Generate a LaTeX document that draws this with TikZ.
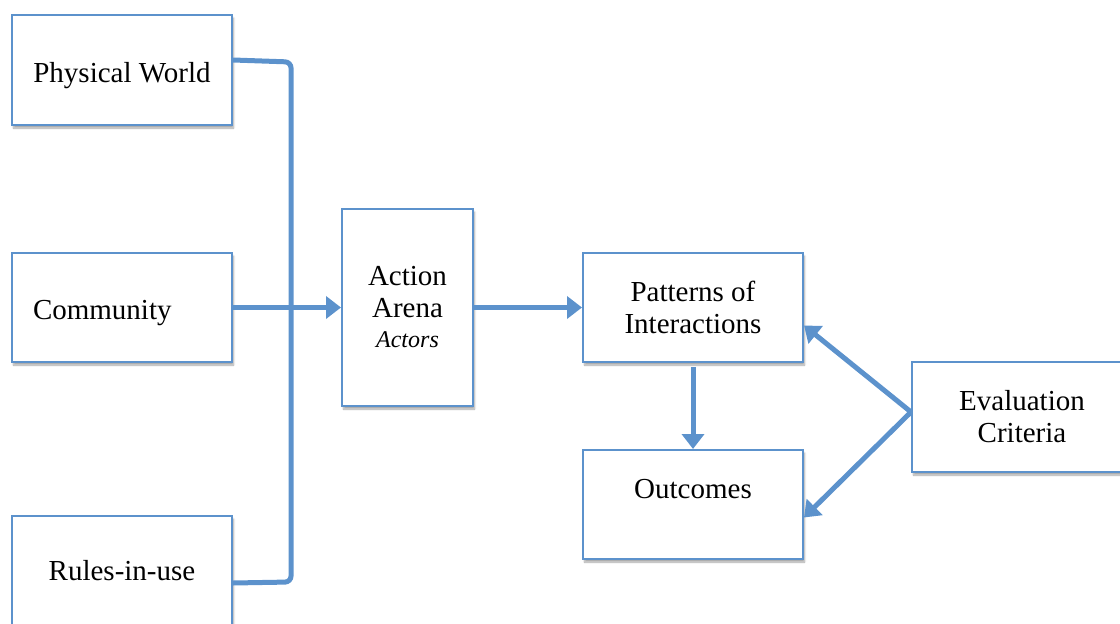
\documentclass[tikz,border=0pt]{standalone}
\usepackage{fontspec}
\setmainfont{Liberation Serif}
\usetikzlibrary{arrows.meta,calc,shadows.blur}

\definecolor{iadblue}{RGB}{92,146,204}

\tikzset{
  box/.style={draw=iadblue, line width=2pt, fill=white, inner sep=0pt,
    minimum width=220pt, minimum height=110pt, align=center,
    font=\fontsize{29}{32}\selectfont,
    blur shadow={shadow xshift=1.5pt, shadow yshift=-3pt, shadow blur steps=6, shadow opacity=35}},
  link/.style={draw=iadblue, line width=5pt},
  flow/.style={link, -{Triangle[length=15pt,width=22pt]}}
}

\begin{document}
\begin{tikzpicture}[x=1pt, y=-1pt]

  \useasboundingbox (0,0) rectangle (1120,624);

  % links of the bracket (drawn first, behind the boxes)
  \coordinate (BT) at (291,62);
  \coordinate (BB) at (291,582);

  % exogenous variables
  \node [box, text depth=0pt] (phys) at (122,70) {\raisebox{-5pt}{Physical World}};
  \node [box, minimum height=109pt, text width=178pt, align=left, text depth=0pt] (comm) at (122,307.5) {\raisebox{-5pt}{Community}};
  \node [box, minimum height=109pt] (rules) at (122,570.5) {Rules-in-use};

  \draw [link, rounded corners=6pt] (phys.east |- 0,60) -- (BT) -- (BB) -- (rules.east |- 0,583);

  % action arena
  \node [box, minimum width=131pt, minimum height=197pt] (arena) at (407.5,307.5)
    {Action\\Arena\\[-2pt]{\fontsize{24}{28}\selectfont\itshape Actors}};

  \node [box, minimum height=109pt] (patt) at (693,307.5) {Patterns of\\Interactions};
  \node [box, minimum height=109pt, text depth=0pt] (outc) at (693,504.5) {\raisebox{31pt}{Outcomes}};
  \node [box] (eval) at (1022,417) {Evaluation\\Criteria};

  \draw [flow] (comm.east) -- (arena.west);
  \draw [flow] (arena.east) -- (patt.west);
  \draw [flow, shorten <=4pt] (patt.south) -- (outc.north);

  \coordinate (E) at ($(eval.west)+(0,-5)$);
  \draw [flow] (E) -- ($(patt.east)+(0,18)$);
  \draw [flow] (E) -- ($(outc.east)+(0,13)$);

\end{tikzpicture}
\end{document}
